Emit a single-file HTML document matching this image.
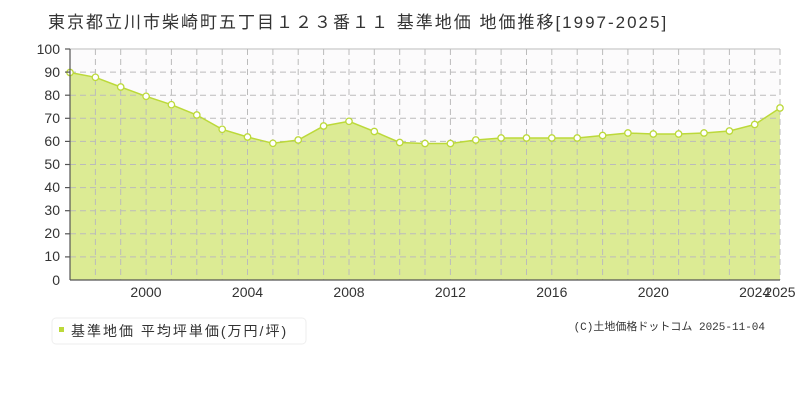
<!DOCTYPE html>
<html><head><meta charset="utf-8"><style>
body{margin:0;background:#fff;font-family:"Liberation Sans","Noto Sans CJK JP",sans-serif;}
</style></head><body>
<svg width="800" height="400" viewBox="0 0 800 400" xmlns="http://www.w3.org/2000/svg" font-family="Liberation Sans, Noto Sans CJK JP, sans-serif">
<text x="48" y="28" font-size="17" fill="#333" letter-spacing="2">東京都立川市柴崎町五丁目１２３番１１ 基準地価 地価推移[1997-2025]</text>
<rect x="70" y="49" width="710" height="231" fill="#fcfbfc"/>
<polygon fill="#dceb94" points="70,280 70,72.5 95.4,77.3 120.7,87 146.1,96.3 171.4,104.7 196.8,115 222.2,129.3 247.5,137 272.9,143.3 298.2,140 323.6,126 349,121.3 374.3,131.5 399.7,142.5 425,143.5 450.4,143.5 475.8,140 501.1,138 526.5,138 551.8,138 577.2,138 602.6,135.5 627.9,133 653.3,134 678.6,134 704,133 729.4,131 754.7,124.5 780,108 780,280"/>
<g stroke="#bbb" stroke-dasharray="6,4" stroke-width="1">
<line x1="70" x2="780" y1="49" y2="49" stroke="#ddd" stroke-dasharray="none" stroke-width="2"/>
<line x1="70" x2="780" y1="72.1" y2="72.1"/><line x1="70" x2="780" y1="95.2" y2="95.2"/><line x1="70" x2="780" y1="118.3" y2="118.3"/><line x1="70" x2="780" y1="141.4" y2="141.4"/><line x1="70" x2="780" y1="164.5" y2="164.5"/><line x1="70" x2="780" y1="187.6" y2="187.6"/><line x1="70" x2="780" y1="210.7" y2="210.7"/><line x1="70" x2="780" y1="233.8" y2="233.8"/><line x1="70" x2="780" y1="256.9" y2="256.9"/>
<line x1="95.4" x2="95.4" y1="49" y2="280"/><line x1="120.7" x2="120.7" y1="49" y2="280"/><line x1="146.1" x2="146.1" y1="49" y2="280"/><line x1="171.4" x2="171.4" y1="49" y2="280"/><line x1="196.8" x2="196.8" y1="49" y2="280"/><line x1="222.2" x2="222.2" y1="49" y2="280"/><line x1="247.5" x2="247.5" y1="49" y2="280"/><line x1="272.9" x2="272.9" y1="49" y2="280"/><line x1="298.2" x2="298.2" y1="49" y2="280"/><line x1="323.6" x2="323.6" y1="49" y2="280"/><line x1="349" x2="349" y1="49" y2="280"/><line x1="374.3" x2="374.3" y1="49" y2="280"/><line x1="399.7" x2="399.7" y1="49" y2="280"/><line x1="425" x2="425" y1="49" y2="280"/><line x1="450.4" x2="450.4" y1="49" y2="280"/><line x1="475.8" x2="475.8" y1="49" y2="280"/><line x1="501.1" x2="501.1" y1="49" y2="280"/><line x1="526.5" x2="526.5" y1="49" y2="280"/><line x1="551.8" x2="551.8" y1="49" y2="280"/><line x1="577.2" x2="577.2" y1="49" y2="280"/><line x1="602.6" x2="602.6" y1="49" y2="280"/><line x1="627.9" x2="627.9" y1="49" y2="280"/><line x1="653.3" x2="653.3" y1="49" y2="280"/><line x1="678.6" x2="678.6" y1="49" y2="280"/><line x1="704" x2="704" y1="49" y2="280"/><line x1="729.4" x2="729.4" y1="49" y2="280"/><line x1="754.7" x2="754.7" y1="49" y2="280"/><line x1="780" x2="780" y1="49" y2="280"/>
</g>
<polyline fill="none" stroke="#bcd93a" stroke-width="1.5" points="70,72.5 95.4,77.3 120.7,87 146.1,96.3 171.4,104.7 196.8,115 222.2,129.3 247.5,137 272.9,143.3 298.2,140 323.6,126 349,121.3 374.3,131.5 399.7,142.5 425,143.5 450.4,143.5 475.8,140 501.1,138 526.5,138 551.8,138 577.2,138 602.6,135.5 627.9,133 653.3,134 678.6,134 704,133 729.4,131 754.7,124.5 780,108"/>
<g fill="#fff" stroke="#bcd93a" stroke-width="1.3">
<circle cx="70" cy="72.5" r="3.2"/><circle cx="95.4" cy="77.3" r="3.2"/><circle cx="120.7" cy="87" r="3.2"/><circle cx="146.1" cy="96.3" r="3.2"/><circle cx="171.4" cy="104.7" r="3.2"/><circle cx="196.8" cy="115" r="3.2"/><circle cx="222.2" cy="129.3" r="3.2"/><circle cx="247.5" cy="137" r="3.2"/><circle cx="272.9" cy="143.3" r="3.2"/><circle cx="298.2" cy="140" r="3.2"/><circle cx="323.6" cy="126" r="3.2"/><circle cx="349" cy="121.3" r="3.2"/><circle cx="374.3" cy="131.5" r="3.2"/><circle cx="399.7" cy="142.5" r="3.2"/><circle cx="425" cy="143.5" r="3.2"/><circle cx="450.4" cy="143.5" r="3.2"/><circle cx="475.8" cy="140" r="3.2"/><circle cx="501.1" cy="138" r="3.2"/><circle cx="526.5" cy="138" r="3.2"/><circle cx="551.8" cy="138" r="3.2"/><circle cx="577.2" cy="138" r="3.2"/><circle cx="602.6" cy="135.5" r="3.2"/><circle cx="627.9" cy="133" r="3.2"/><circle cx="653.3" cy="134" r="3.2"/><circle cx="678.6" cy="134" r="3.2"/><circle cx="704" cy="133" r="3.2"/><circle cx="729.4" cy="131" r="3.2"/><circle cx="754.7" cy="124.5" r="3.2"/><circle cx="780" cy="108" r="3.2"/>
</g>
<g stroke="#555" stroke-width="1.2">
<line x1="70" x2="70" y1="49" y2="280"/><line x1="70" x2="780" y1="280" y2="280"/>
<line x1="65" x2="70" y1="49" y2="49"/><line x1="65" x2="70" y1="72.1" y2="72.1"/><line x1="65" x2="70" y1="95.2" y2="95.2"/><line x1="65" x2="70" y1="118.3" y2="118.3"/><line x1="65" x2="70" y1="141.4" y2="141.4"/><line x1="65" x2="70" y1="164.5" y2="164.5"/><line x1="65" x2="70" y1="187.6" y2="187.6"/><line x1="65" x2="70" y1="210.7" y2="210.7"/><line x1="65" x2="70" y1="233.8" y2="233.8"/><line x1="65" x2="70" y1="256.9" y2="256.9"/>
</g>
<g font-size="14" fill="#333" text-anchor="end">
<text x="60" y="54">100</text><text x="60" y="77">90</text><text x="60" y="100">80</text><text x="60" y="123">70</text><text x="60" y="146">60</text><text x="60" y="169">50</text><text x="60" y="192">40</text><text x="60" y="215">30</text><text x="60" y="238">20</text><text x="60" y="261">10</text><text x="60" y="285">0</text>
</g>
<g font-size="14" fill="#333" text-anchor="middle">
<text x="146" y="297">2000</text><text x="247.5" y="297">2004</text><text x="349" y="297">2008</text><text x="450.4" y="297">2012</text><text x="551.8" y="297">2016</text><text x="653.3" y="297">2020</text><text x="754.7" y="297">2024</text><text x="780" y="297">2025</text>
</g>
<rect x="52" y="318" width="254" height="26" rx="4" fill="#fff" stroke="#eee"/>
<rect x="59" y="327" width="5" height="5" fill="#bcd93a"/>
<text x="71" y="336" font-size="14" fill="#333" letter-spacing="2">基準地価 平均坪単価(万円/坪)</text>
<text x="765" y="330" font-size="11" fill="#333" text-anchor="end" font-family="Liberation Mono, Noto Sans CJK JP, monospace">(C)土地価格ドットコム 2025-11-04</text>
</svg>
</body></html>
